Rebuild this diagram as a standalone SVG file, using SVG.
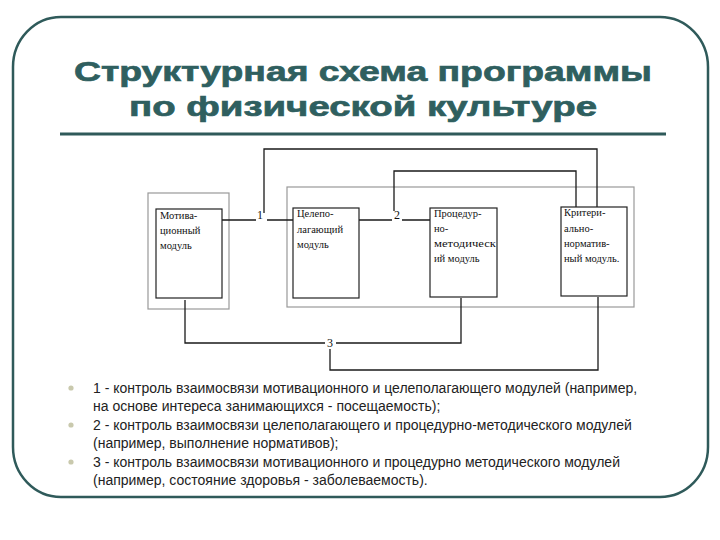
<svg xmlns="http://www.w3.org/2000/svg" width="720" height="540" viewBox="0 0 720 540">
<style>
.title{font-family:"Liberation Sans",Arial,sans-serif;font-weight:bold;font-size:28px;fill:#2f5f5f;stroke:#2f5f5f;stroke-width:0.7}
.mod{font-family:"Liberation Serif","Times New Roman",serif;font-size:10.5px;fill:#111}
.num{font-family:"Liberation Serif","Times New Roman",serif;font-size:12px;fill:#111}
.box{fill:#fff;stroke:#222;stroke-width:1.2}
.outer{fill:none;stroke:#999;stroke-width:1.2}
.conn{fill:none;stroke:#1a1a1a;stroke-width:1.3}
.txt{font-family:"Liberation Sans",Arial,sans-serif;font-size:14px;fill:#222}
.bul{fill:#c9c9ad}
</style>
<rect x="0" y="0" width="720" height="540" fill="#fff"/>
<rect x="13" y="17" width="695" height="480" rx="48" ry="50" fill="#fff" stroke="#2f5a5a" stroke-width="2.5"/>
<g id="title">
<text class="title" x="363" y="81" text-anchor="middle" textLength="578" lengthAdjust="spacingAndGlyphs">Структурная схема программы</text>
<text class="title" x="363" y="116" text-anchor="middle" textLength="468" lengthAdjust="spacingAndGlyphs">по физической культуре</text>
<line x1="60" y1="134" x2="666" y2="134" stroke="#2f5a5a" stroke-width="3"/>
</g>
<g id="frames">
<rect class="outer" x="148" y="193" width="81" height="116"/>
<rect class="outer" x="287" y="187" width="347" height="120"/>
</g>
<g id="connectors">
<path class="conn" d="M222,220 H256 M267,220 H293"/>
<path class="conn" d="M264,213 V149 H597 V207"/>
<path class="conn" d="M359,220 H392 M402,220 H430"/>
<path class="conn" d="M394,211 V171 H576 V207"/>
<path class="conn" d="M185,300 V343 H325 M336,343 H461 V298"/>
<path class="conn" d="M330,349 V370 H598 V297"/>
<text class="num" x="260" y="219" text-anchor="middle">1</text>
<text class="num" x="397" y="219" text-anchor="middle">2</text>
<text class="num" x="330" y="347" text-anchor="middle">3</text>
</g>
<g id="motiv">
<rect class="box" x="156" y="209" width="66" height="89"/>
<text class="mod" x="160" y="219">Мотива-</text>
<text class="mod" x="160" y="234">ционный</text>
<text class="mod" x="160" y="249">модуль</text>
</g>
<g id="celep">
<rect class="box" x="293" y="208" width="66" height="90"/>
<text class="mod" x="297" y="217">Целепо-</text>
<text class="mod" x="297" y="233">лагающий</text>
<text class="mod" x="297" y="248">модуль</text>
</g>
<g id="proc">
<rect class="box" x="430" y="208" width="67" height="89"/>
<text class="mod" x="434" y="217">Процедур-</text>
<text class="mod" x="434" y="232">но-</text>
<text class="mod" x="434" y="247" textLength="62" lengthAdjust="spacingAndGlyphs">методическ</text>
<text class="mod" x="434" y="262">ий модуль</text>
</g>
<g id="krit">
<rect class="box" x="561" y="207" width="66" height="89"/>
<text class="mod" x="564" y="216">Критери-</text>
<text class="mod" x="564" y="232">ально-</text>
<text class="mod" x="564" y="247">норматив-</text>
<text class="mod" x="564" y="262">ный модуль.</text>
</g>
<g id="legend">
<circle class="bul" cx="71" cy="388" r="2.6"/>
<circle class="bul" cx="71" cy="425" r="2.6"/>
<circle class="bul" cx="71" cy="462" r="2.6"/>
<text class="txt" x="93" y="393">1 - контроль взаимосвязи мотивационного и целеполагающего модулей (например,</text>
<text class="txt" x="93" y="411">на основе интереса занимающихся - посещаемость);</text>
<text class="txt" x="93" y="430">2 - контроль взаимосвязи целеполагающего и процедурно-методического модулей</text>
<text class="txt" x="93" y="448">(например, выполнение нормативов);</text>
<text class="txt" x="93" y="467">3 - контроль взаимосвязи мотивационного и процедурно методического модулей</text>
<text class="txt" x="93" y="485">(например, состояние здоровья - заболеваемость).</text>
</g>
</svg>
